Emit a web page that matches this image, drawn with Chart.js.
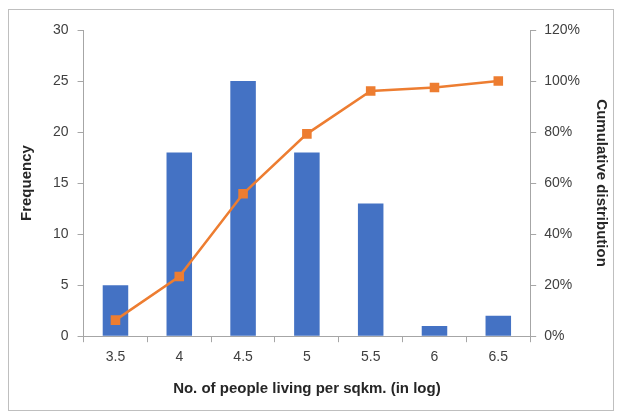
<!DOCTYPE html>
<html>
<head>
<meta charset="utf-8">
<script src="https://cdn.jsdelivr.net/npm/chart.js@4"></script>
<style>
  html, body { margin: 0; padding: 0; background: #fff; }
  #frame { position: absolute; left: 8px; top: 9px; width: 604px; height: 400px; border: 1px solid #bfbfbf; }
  #wrap { position: absolute; left: 0; top: 0; width: 620px; height: 414px; }
</style>
</head>
<body>
<div id="frame"></div>
<div id="wrap"><canvas id="chart"></canvas></div>
<script>
var categories = ["3.5", "4", "4.5", "5", "5.5", "6", "6.5"];
var frequency = [5, 18, 25, 18, 13, 1, 2];
var cumulative = [6.3, 23.4, 55.8, 79.3, 96.1, 97.5, 100];

var axisColor = "#a6a6a6";
var textColor = "#404040";
var fontFamily = "'Liberation Sans', Arial, sans-serif";

document.addEventListener("DOMContentLoaded", function() {
    var ctx = document.getElementById("chart").getContext("2d");
    new Chart(ctx, {
        type: "bar",
        data: {
            labels: categories,
            datasets: [{
                type: "line",
                label: "Cumulative distribution",
                data: cumulative,
                yAxisID: "y1",
                borderColor: "#ed7d31",
                backgroundColor: "#ed7d31",
                borderWidth: 2.5,
                pointStyle: "rect",
                pointRadius: 5,
                pointHoverRadius: 5,
                tension: 0,
                order: 0
            }, {
                label: "Frequency",
                data: frequency,
                yAxisID: "y",
                backgroundColor: "#4472c4",
                barPercentage: 0.4,
                categoryPercentage: 1.0,
                order: 1
            }]
        },
        options: {
            responsive: true,
            maintainAspectRatio: false,
            animation: false,
            layout: { padding: { left: 14, right: 4, top: 30, bottom: 12 } },
            plugins: { legend: { display: false }, tooltip: { enabled: false } },
            scales: {
                x: {
                    grid: { offset: true, drawOnChartArea: false, tickLength: 6, color: axisColor },
                    border: { color: axisColor },
                    ticks: { color: textColor, font: { family: fontFamily, size: 14 }, padding: 7 },
                    title: { display: true, text: "No. of people living per sqkm. (in log)", color: "#262626",
                             font: { family: fontFamily, size: 15, weight: "bold" }, padding: { top: 7 } }
                },
                y: {
                    position: "left",
                    min: 0, max: 30,
                    ticks: { stepSize: 5, color: textColor, font: { family: fontFamily, size: 14 }, padding: 9 },
                    grid: { drawOnChartArea: false, tickLength: 6, color: axisColor },
                    border: { color: axisColor },
                    title: { display: true, text: "Frequency", color: "#262626",
                             font: { family: fontFamily, size: 15, weight: "bold" }, padding: { bottom: 8 } }
                },
                y1: {
                    position: "right",
                    min: 0, max: 120,
                    ticks: { stepSize: 20, color: textColor, font: { family: fontFamily, size: 14 }, padding: 8,
                             callback: function(v) { return v + "%"; } },
                    grid: { drawOnChartArea: false, tickLength: 6, color: axisColor },
                    border: { color: axisColor },
                    title: { display: true, text: "Cumulative distribution", color: "#262626",
                             font: { family: fontFamily, size: 15, weight: "bold" }, padding: { top: 6 } }
                }
            }
        }
    });
});
</script>
</body>
</html>
